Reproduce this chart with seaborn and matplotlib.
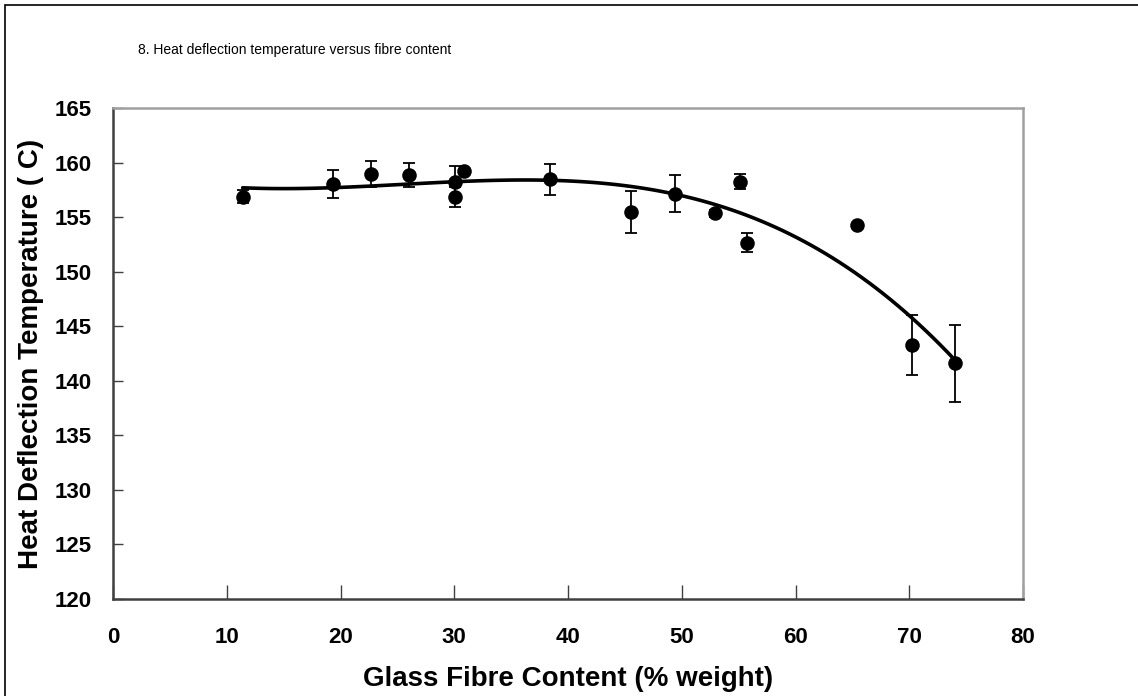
import matplotlib
matplotlib.use("Agg")
import matplotlib.pyplot as plt
import seaborn as sns
import numpy as np
import pandas as pd
from matplotlib.patches import Rectangle

# Data
fibre_content = [11.4, 19.3, 22.7, 26.0, 30.1, 30.1, 30.9, 38.4, 45.5, 49.4, 52.9, 55.1, 55.7, 65.4, 70.2, 74.0]
hdt = [156.85, 158.05, 158.95, 158.85, 158.25, 156.85, 159.25, 158.45, 155.45, 157.15, 155.35, 158.25, 152.65, 154.3, 143.3, 141.6]
hdt_err = [0.6, 1.3, 1.2, 1.1, 1.4, 0.9, 0.0, 1.45, 1.9, 1.7, 0.3, 0.7, 0.85, 0.0, 2.75, 3.5]

x_ticks = [0, 10, 20, 30, 40, 50, 60, 70, 80]
y_ticks = [120, 125, 130, 135, 140, 145, 150, 155, 160, 165]

title_text = "8. Heat deflection temperature versus fibre content"
x_label = "Glass Fibre Content (% weight)"
y_label = "Heat Deflection Temperature ( C)"

df = pd.DataFrame({"fibre": fibre_content, "hdt": hdt, "err": hdt_err})

sns.set_theme(style="white")
plt.rcParams['font.family'] = ['Liberation Sans', 'DejaVu Sans']
plt.rcParams.update({"text.color": "black", "axes.labelcolor": "black",
                     "xtick.color": "black", "ytick.color": "black"})

W, H = 1138, 696
fig = plt.figure(figsize=(W / 100, H / 100), dpi=100)
ax = fig.add_axes([113 / W, 1 - 599 / H, (1023 - 113) / W, (599 - 108) / H])

# error bars
ax.errorbar(df["fibre"], df["hdt"], yerr=df["err"], fmt="none", ecolor="black",
            elinewidth=1.3, capsize=4.5, capthick=1.3, zorder=2)
# fitted trend (cubic)
sns.regplot(data=df, x="fibre", y="hdt", order=3, ci=None, scatter=False, ax=ax,
            line_kws=dict(color="black", lw=2.6, zorder=3))
# points
sns.scatterplot(data=df, x="fibre", y="hdt", ax=ax, color="black", s=110,
                edgecolor="black", linewidth=0, zorder=4, legend=False)

ax.set_xlim(0, 80)
ax.set_ylim(120, 165)
ax.set_xticks(x_ticks)
ax.set_yticks(y_ticks)
ax.set_xticklabels([str(v) for v in x_ticks], fontsize=16, fontweight="bold")
ax.set_yticklabels([str(v) for v in y_ticks], fontsize=16, fontweight="bold")
ax.tick_params(axis="x", direction="in", length=10, width=1, color="#404040", pad=20, bottom=True)
ax.tick_params(axis="y", direction="in", length=7, width=1, color="#404040", pad=15, left=True)
ax.set_xlabel(x_label, fontsize=20, fontweight="bold", labelpad=13)
ax.set_ylabel(y_label, fontsize=20, fontweight="bold", labelpad=8)

for side in ["left", "bottom"]:
    ax.spines[side].set_color("#404040")
    ax.spines[side].set_linewidth(1.8)
for side in ["top", "right"]:
    ax.spines[side].set_color("#a0a0a0")
    ax.spines[side].set_linewidth(1.8)

fig.text(138 / W, 1 - 50 / H, title_text, fontsize=10, ha="left", va="center")

# outer frame
fig.patches.append(Rectangle((5 / W, -0.1), 1.2, 1.1 - 5 / H, transform=fig.transFigure,
                             fill=False, edgecolor="black", linewidth=1.2, zorder=0))

fig.savefig("out.png", dpi=100)
